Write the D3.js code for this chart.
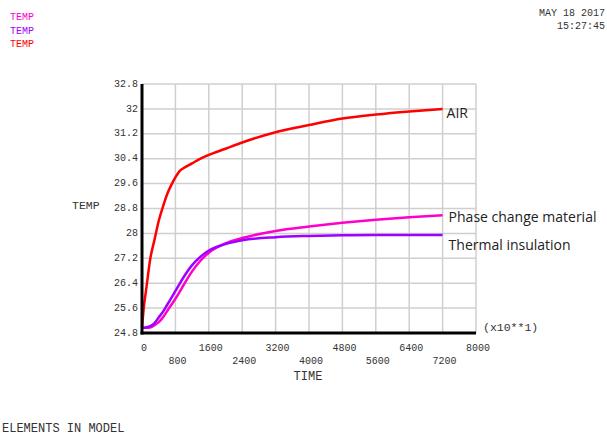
<!DOCTYPE html>
<html>
<head>
<meta charset="utf-8">
<script src="https://cdn.jsdelivr.net/npm/d3@7"></script>
<style>
  body { margin: 0; background: #fff; }
  text.mono { font-family: "Liberation Mono", "DejaVu Sans Mono", monospace; font-size: 10px; fill: #333; }
  text.leg { font-family: "Open Sans", "Noto Sans", sans-serif; font-size: 14px; fill: #222; }
</style>
</head>
<body>
<div id="chart"></div>
<script>
// time values (x10**1)
const times = [0, 50, 100, 200, 300, 400, 500, 600, 700, 800, 900, 1000, 1200, 1400, 1600, 2000, 2400, 3200, 4000, 4800, 5600, 6400, 7200];
const airTemp = [24.97, 25.7, 26.2, 27.2, 27.8, 28.4, 28.85, 29.25, 29.55, 29.8, 30.0, 30.1, 30.25, 30.4, 30.52, 30.72, 30.92, 31.25, 31.48, 31.69, 31.82, 31.92, 32.0];
const pcmTemp = [24.97, 24.97, 24.97, 24.98, 25.05, 25.15, 25.3, 25.5, 25.7, 25.9, 26.12, 26.35, 26.78, 27.12, 27.38, 27.68, 27.85, 28.08, 28.22, 28.34, 28.44, 28.52, 28.58];
const insTemp = [24.97, 24.97, 24.98, 25.02, 25.12, 25.3, 25.48, 25.7, 25.92, 26.15, 26.38, 26.6, 26.98, 27.25, 27.45, 27.66, 27.78, 27.88, 27.92, 27.94, 27.95, 27.95, 27.95];

const xTicks = [0, 800, 1600, 2400, 3200, 4000, 4800, 5600, 6400, 7200, 8000];
const yTicks = [24.8, 25.6, 26.4, 27.2, 28, 28.8, 29.6, 30.4, 31.2, 32, 32.8];

const series = [
  { name: "AIR", values: airTemp, color: "#ff0000", dy: 5 },
  { name: "Phase change material", values: pcmTemp, color: "#ff00cc", dy: 3 },
  { name: "Thermal insulation", values: insTemp, color: "#a000ff", dy: 11 }
];

const width = 607, height = 437;
const svg = d3.select("#chart").append("svg")
  .attr("width", width)
  .attr("height", height);

const x = d3.scaleLinear().domain([0, 8000]).range([142, 476]);
const y = d3.scaleLinear().domain([24.8, 32.8]).range([333, 84]);

// grid
svg.append("g").selectAll("line").data(xTicks).enter().append("line")
  .attr("x1", d => x(d)).attr("x2", d => x(d))
  .attr("y1", y(24.8)).attr("y2", y(32.8))
  .attr("stroke", "#cfcfcf").attr("stroke-width", 1.5);
svg.append("g").selectAll("line").data(yTicks).enter().append("line")
  .attr("x1", x(0)).attr("x2", x(8000))
  .attr("y1", d => y(d)).attr("y2", d => y(d))
  .attr("stroke", "#cfcfcf").attr("stroke-width", 1.5);

// curves
const line = d3.line()
  .x((d, i) => x(times[i]))
  .y(d => y(d))
  .curve(d3.curveMonotoneX);

series.forEach(s => {
  svg.append("path")
    .datum(s.values)
    .attr("d", line)
    .attr("fill", "none")
    .attr("stroke", s.color)
    .attr("stroke-width", 2.5);
  svg.append("text")
    .attr("class", "leg")
    .attr("x", x(7200) + (s.name === "AIR" ? 4 : 6))
    .attr("y", y(s.values[s.values.length - 1]) + s.dy)
    .attr("dominant-baseline", "middle")
    .text(s.name);
});

// axes (thick black)
svg.append("line")
  .attr("x1", x(0)).attr("x2", x(0))
  .attr("y1", y(32.8)).attr("y2", y(24.8) + 1.5)
  .attr("stroke", "#000").attr("stroke-width", 3);
svg.append("line")
  .attr("x1", x(0) - 1.5).attr("x2", x(8000))
  .attr("y1", y(24.8)).attr("y2", y(24.8))
  .attr("stroke", "#000").attr("stroke-width", 3);

// y tick labels
svg.append("g").selectAll("text").data(yTicks).enter().append("text")
  .attr("class", "mono")
  .attr("x", 138)
  .attr("y", d => y(d))
  .attr("text-anchor", "end")
  .attr("dominant-baseline", "middle")
  .text(d => d3.format("~g")(d));

// x tick labels, alternating rows
svg.append("g").selectAll("text").data(xTicks).enter().append("text")
  .attr("class", "mono")
  .attr("x", d => x(d) + 2)
  .attr("y", (d, i) => i % 2 === 0 ? 351 : 364)
  .attr("text-anchor", "middle")
  .text(d => d);

// axis titles and annotations
svg.append("text").attr("class", "mono").attr("x", 308).attr("y", 380)
  .attr("text-anchor", "middle").style("font-size", "12px").text("TIME");
svg.append("text").attr("class", "mono").attr("x", 72).attr("y", 209)
  .style("font-size", "11.5px").text("TEMP");
svg.append("text").attr("class", "mono").attr("x", 483).attr("y", 331)
  .style("font-size", "11.5px").text("(x10**1)");

// header
const headColors = ["#ff00cc", "#a000ff", "#ff0000"];
svg.append("g").selectAll("text").data(headColors).enter().append("text")
  .attr("class", "mono")
  .attr("x", 10)
  .attr("y", (d, i) => 20 + i * 13.5)
  .style("fill", d => d)
  .text("TEMP");

svg.append("text").attr("class", "mono").attr("x", 605).attr("y", 16)
  .attr("text-anchor", "end").text("MAY 18 2017");
svg.append("text").attr("class", "mono").attr("x", 605).attr("y", 29)
  .attr("text-anchor", "end").text("15:27:45");

svg.append("text").attr("class", "mono").attr("x", 2).attr("y", 432)
  .style("font-size", "12px").text("ELEMENTS IN MODEL");
</script>
</body>
</html>
